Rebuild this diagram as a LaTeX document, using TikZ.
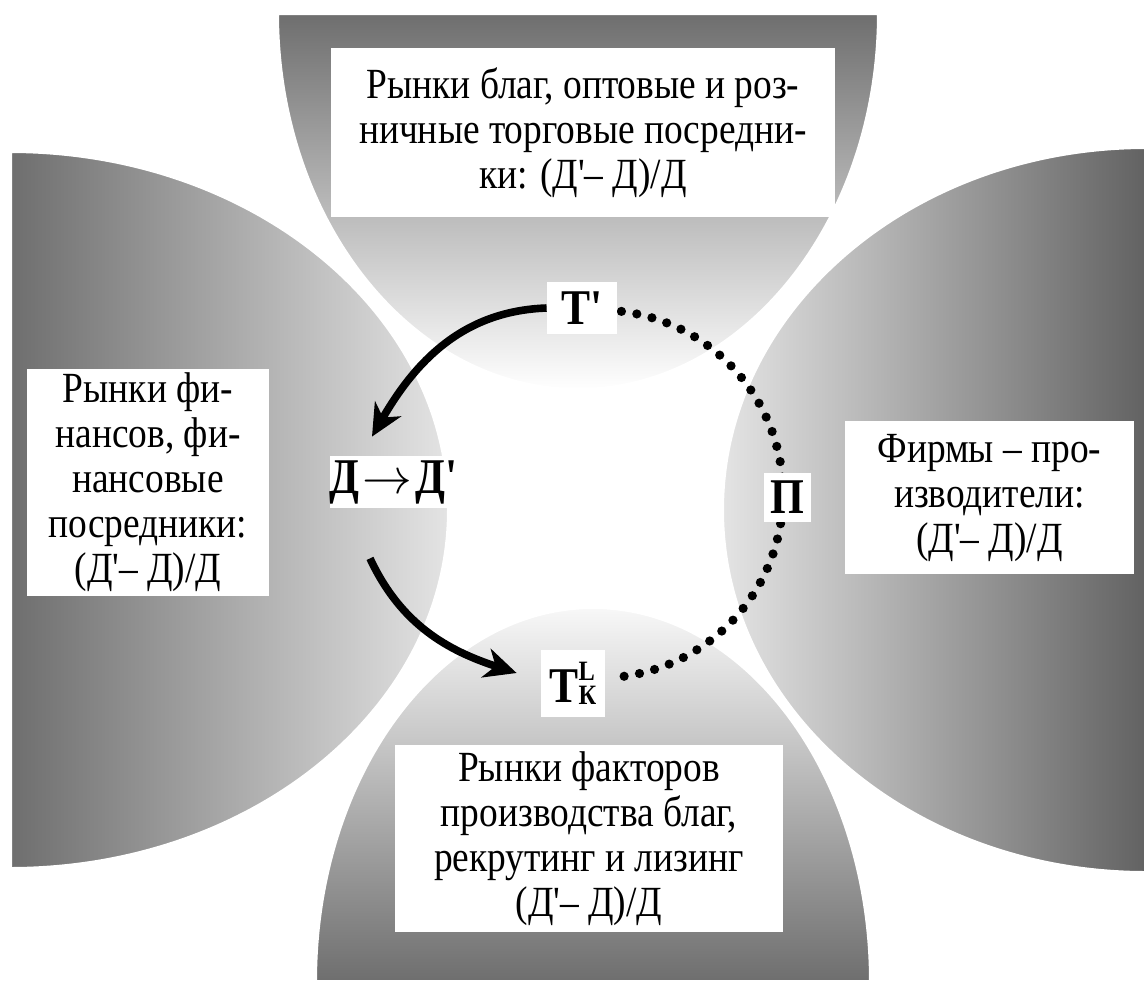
\documentclass[tikz,border=0pt]{standalone}
\usepackage{fontspec}
\setmainfont{Liberation Serif}[FakeStretch=0.87,Ligatures=TeXOff]
\usetikzlibrary{arrows.meta}
\definecolor{zdark}{HTML}{6E6E6E}
\definecolor{zdarker}{HTML}{626262}
\definecolor{zlight}{HTML}{E4E4E4}
\definecolor{zpale}{HTML}{F8F8F8}

\begin{document}
\begin{tikzpicture}[x=0.5pt,y=0.5pt,>=Stealth,
  zone/.style={draw=white,line width=2pt},
  txtbox/.style={fill=white,align=flush center,inner sep=0pt,font=\fontsize{21.5}{22.5}\selectfont},
  lbl/.style={fill=white,inner sep=0pt,font=\fontsize{25}{25}\selectfont\bfseries},
  arr/.style={line width=3.8pt,-{Stealth[length=16pt,width=15pt,inset=5pt]}},
  dotline/.style={line width=4.6pt,line cap=round,dash pattern=on 0pt off 7.8pt}]
\useasboundingbox (0,0) rectangle (1146,-982);
% four markets
\draw[zone,left color=zdark,right color=zlight] (10,-151) arc[start angle=90,end angle=-90,x radius=439,y radius=359] -- cycle;
\draw[zone,left color=zlight,right color=zdarker] (1146,-147) arc[start angle=90,end angle=270,x radius=424,y radius=363] -- cycle;
\draw[zone,top color=zdark,bottom color=white] (277,-13) arc[start angle=180,end angle=360,x radius=301,y radius=377] -- cycle;
\draw[zone,top color=zpale,bottom color=zdark] (315,-982) arc[start angle=180,end angle=0,x radius=278,y radius=375] -- cycle;
% circuit
\coordinate (c) at (599,-494);
\draw[dotline] ([shift={(83:184)}]c) arc[start angle=83,end angle=-84,radius=184];
\node[txtbox,text width=252pt,minimum height=84.5pt] (goods) at (583,-132.5)
 {Рынки благ, оптовые и роз-\\ничные торговые посредни-\\ки: (Д'– Д)/Д};
\node[txtbox,text width=121pt,minimum height=113.5pt] (fin) at (148,-482.5)
 {Рынки фи-\\нансов, фи-\\нансовые\\посредники:\\(Д'– Д)/Д};
\node[txtbox,text width=144.5pt,minimum height=76.5pt] (firms) at (989.5,-497.5)
 {Фирмы – про-\\изводители:\\(Д'– Д)/Д};
\node[txtbox,text width=194pt,minimum height=93.5pt] (factors) at (589,-838.5)
 {Рынки факторов\\производства благ,\\рекрутинг и лизинг\\(Д'– Д)/Д};
\node[lbl,minimum width=35pt,minimum height=26pt] (tp) at (582,-308) {Т'};
\node[lbl,minimum width=55.5pt,minimum height=26pt] (dd) at (393.5,-482) {Д\kern1.5pt$\rightarrow$\kern1.5pt Д'};
\node[lbl,minimum width=23.5pt,minimum height=24.5pt] (pi) at (787.5,-497.5) {П};
\node[lbl,minimum width=32pt,minimum height=33.5pt] (tk) at (573,-683.5)
 {Т\rlap{\raisebox{11pt}{\fontsize{14}{14}\selectfont L}}\raisebox{-1pt}{\fontsize{14}{14}\selectfont К}};
\draw[arr] (tp.west) to[out=182,in=60] ([xshift=-10.75pt,yshift=9.5pt]dd.north);
\draw[arr] ([xshift=-11.75pt,yshift=-25pt]dd.south) to[out=-65,in=162] ([xshift=-12pt,yshift=5.25pt]tk.west);
\end{tikzpicture}
\end{document}
